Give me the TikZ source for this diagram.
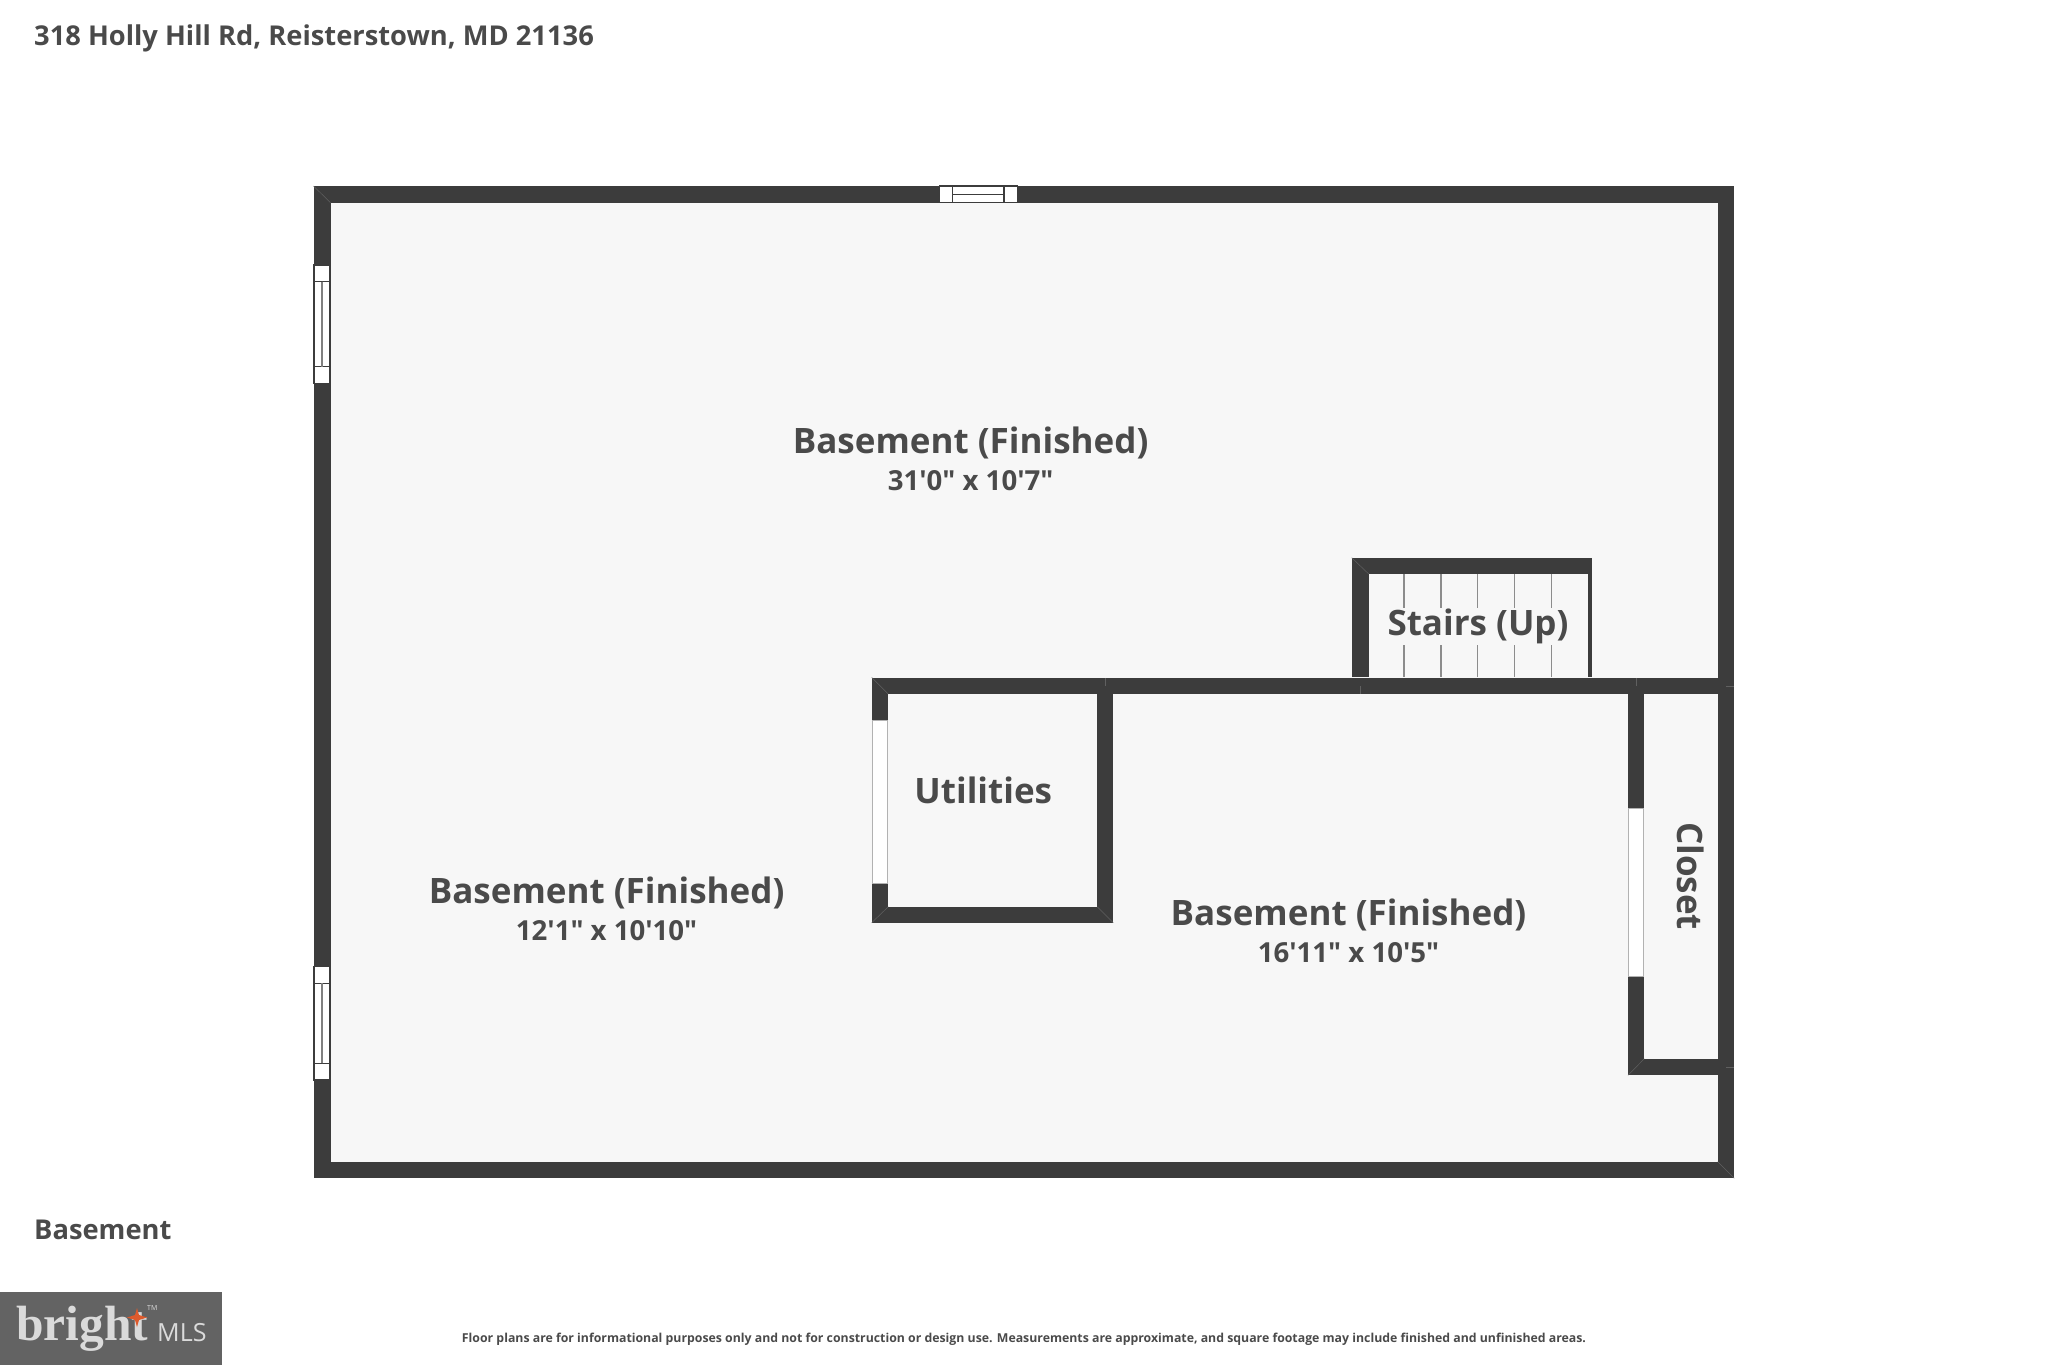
\documentclass[tikz,border=0pt]{standalone}
\usepackage{fontspec}
\newfontfamily\planfont{Open Sans}
\newfontfamily\logofont{Liberation Serif}
\definecolor{wallgray}{HTML}{3C3C3C}
\definecolor{floorgray}{HTML}{F7F7F7}
\definecolor{textgray}{HTML}{4A4A4A}
\definecolor{logogray}{HTML}{636363}
\definecolor{logotext}{HTML}{DADADA}
\definecolor{logostar}{HTML}{DD5A2C}
\tikzset{
  wall/.style={fill=wallgray,draw=none},
  seam/.style={draw=gray!75!black,line width=0.5pt},
  window/.style={fill=white,draw=wallgray,line width=1.2pt},
  opening/.style={fill=white,draw=gray!60,line width=1pt},
  tread/.style={draw=gray!90,line width=1.2pt},
  roomname/.style={text=textgray,font=\fontsize{35}{35}\planfont\bfseries,inner sep=0pt},
  roomdim/.style={text=textgray,font=\fontsize{27.6}{27.6}\planfont\bfseries,inner sep=0pt},
  caption/.style={text=textgray,font=\fontsize{27.3}{27.3}\planfont\bfseries,inner sep=0pt,anchor=west},
}
\begin{document}
\begin{tikzpicture}[x=1pt,y=-1pt]
    \useasboundingbox (0,0) rectangle (2048,1365);

    % Outer walls and floor
    \fill[wall] (313.5,186) rectangle (1734.3,1178.3);
    \fill[floorgray] (330.5,202.7) rectangle (1717.7,1161.7);

    % Stair walls
    \fill[wall] (1351.7,557.7) rectangle (1592,574);
    \fill[wall] (1351.7,557.7) rectangle (1368.7,677.3);
    \fill[wall] (1588.3,557.7) rectangle (1592,677.3);
    \foreach \stepx in {1404,1441,1477.7,1514.7,1551.7}
        \draw[tread] (\stepx,574) -- (\stepx,677.3);

    % Long middle wall
    \fill[wall] (871.7,677.5) rectangle (1734.3,694);

    % Utilities walls
    \fill[wall] (871.7,677.5) rectangle (888.3,922.7);
    \fill[wall] (1097.3,677.5) rectangle (1113.3,922.7);
    \fill[wall] (871.7,906.7) rectangle (1113.3,922.7);
    \draw[opening] (872.2,720) rectangle (887.8,883.3);

    % Closet walls
    \fill[wall] (1628,694) rectangle (1644.3,1075.3);
    \fill[wall] (1628,1058.7) rectangle (1734.3,1075.3);
    \draw[opening] (1628.5,808.3) rectangle (1643.8,976.7);

    % Wall seams
    \draw[seam] (313.5,186) -- (330.5,202.7);
    \draw[seam] (1734.3,1178.3) -- (1717.7,1161.7);
    \draw[seam] (1351.7,557.7) -- (1368.7,574);
    \draw[seam] (1360.2,686) -- (1360.2,694);
    \draw[seam] (1636,686) -- (1636,677.5);
    \draw[seam] (1105.3,686) -- (1105.3,677.5);
    \draw[seam] (871.7,677.5) -- (888.3,694);
    \draw[seam] (871.7,922.7) -- (888.3,906.7);
    \draw[seam] (1113.3,922.7) -- (1097.3,906.7);
    \draw[seam] (1628,1075.3) -- (1644.3,1058.7);
    \draw[seam] (1726,1067) -- (1734.3,1067);
    \draw[seam] (1726,686) -- (1734.3,686);

    % Top window
    \draw[window] (939.3,186) rectangle (1017.3,202.7);
    \draw[window] (952.7,186) rectangle (1004,202.7);
    \draw[window] (952.7,194.3) -- (1004,194.3);

    % Upper left window
    \draw[window] (314,265) rectangle (330,383.3);
    \draw[window] (314,281.7) rectangle (330,366.7);
    \draw[window,draw=gray] (322,281.7) -- (322,366.7);

    % Lower left window
    \draw[window] (314,966.7) rectangle (330,1080);
    \draw[window] (314,983.3) rectangle (330,1063.3);
    \draw[window,draw=gray] (322,983.3) -- (322,1063.3);

    % Room labels
    \node[roomname] (topname) at (970.6,442.6) {Basement (Finished)};
    \node[roomdim] (topdim) at (970.6,481) {31'0" x 10'7"};
    \node[roomname] (leftname) at (606.6,892.6) {Basement (Finished)};
    \node[roomdim] (leftdim) at (606.6,931) {12'1" x 10'10"};
    \node[roomname] (rightname) at (1348.5,914.6) {Basement (Finished)};
    \node[roomdim] (rightdim) at (1348.5,953) {16'11" x 10'5"};
    \node[roomname,fill=floorgray,inner sep=1pt] (stairs) at (1478,626) {Stairs (Up)};
    \node[roomname] (utilities) at (983.3,790) {Utilities};
    \node[roomname,rotate=-90] (closet) at (1691,876) {Closet};

    % Captions
    \node[caption] (address) at (34,38) {318 Holly Hill Rd, Reisterstown, MD 21136};
    \node[caption] (level) at (34,1230) {Basement};
    \node[text=textgray,font=\fontsize{12.3}{12.3}\planfont\bfseries,inner sep=0pt] (notice) at (1024,1339) {Floor plans are for informational purposes only and not for construction or design use. Measurements are approximate, and square footage may include finished and unfinished areas.};

    % Logo
    \fill[logogray] (0,1292) rectangle (222,1365);
    \node[anchor=base west,text=logotext,font=\fontsize{49.5}{49.5}\logofont\bfseries,inner sep=0pt] (brightword) at (16,1340) {bright};
    \node[anchor=base west,text=logotext,font=\fontsize{25}{25}\planfont,inner sep=0pt] (mlsword) at (157,1341) {MLS};
    \node[anchor=base west,text=logotext,font=\fontsize{7}{7}\planfont,inner sep=0pt] (tmword) at (147,1310) {TM};
    \fill[logostar] (137,1308) -- (139,1315) -- (147,1317.5) -- (139,1320) -- (137,1327) -- (135,1320) -- (127,1317.5) -- (135,1315) -- cycle;
\end{tikzpicture}
\end{document}
